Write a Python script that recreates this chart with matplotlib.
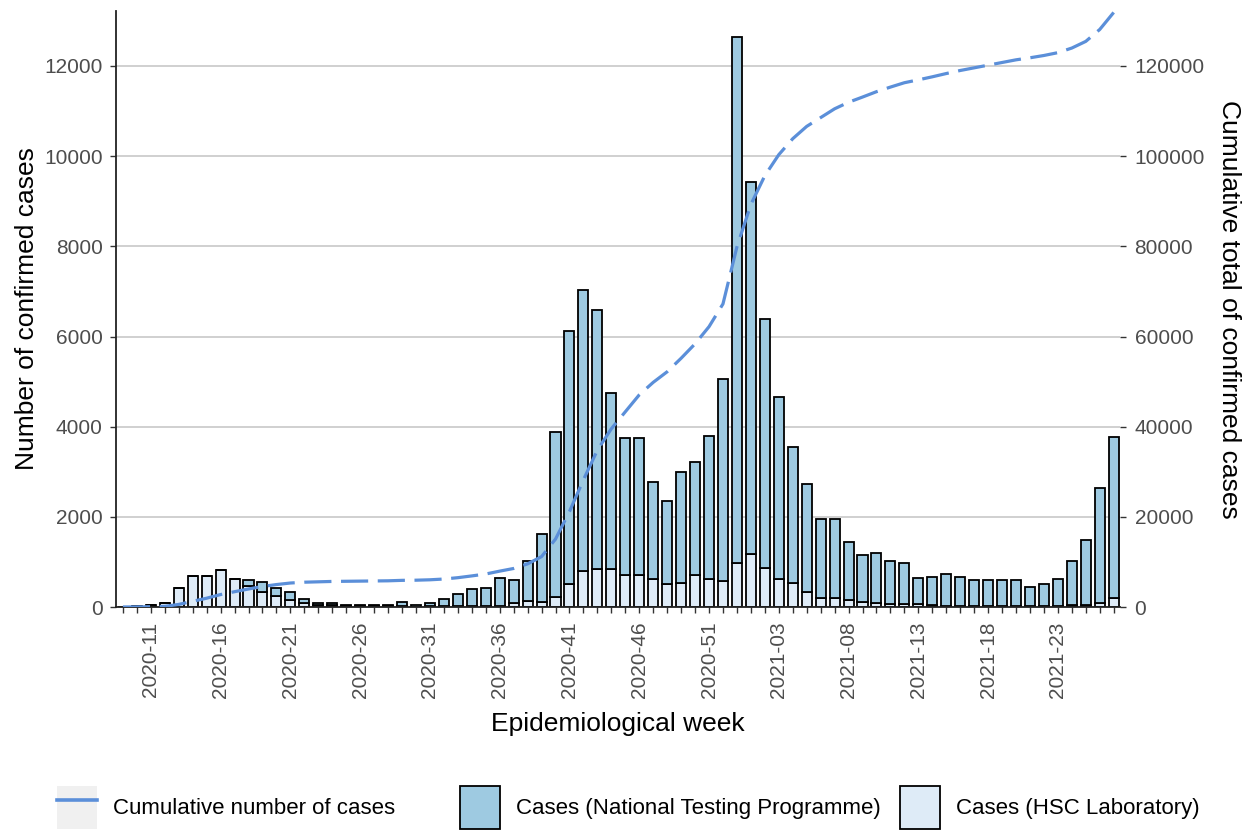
import numpy as np
import matplotlib
matplotlib.use('Agg')
import matplotlib.pyplot as plt
from matplotlib.patches import Patch
from matplotlib.lines import Line2D
from matplotlib.legend_handler import HandlerTuple

plt.rcParams['font.family'] = ['Liberation Sans', 'DejaVu Sans']

weeks = ['2020-%02d' % w for w in range(9, 54)] + ['2021-%02d' % w for w in range(1, 28)]

# total weekly cases (both sources) and the HSC laboratory part
total_cases = [10, 15, 40, 80, 430, 688, 688, 814, 630, 600,
               555, 430, 342, 180, 85, 85, 35, 35, 35, 35,
               100, 35, 90, 170, 297, 393, 421, 637, 592, 1020,
               1611, 3885, 6115, 7023, 6590, 4750, 3757, 3757, 2773, 2350,
               2994, 3206, 3800, 5047, 12646,
               9423, 6378, 4656, 3545, 2731, 1951, 1951, 1450, 1154, 1191,
               1021, 969, 637, 674, 725, 674, 592, 592, 592, 592,
               452, 511, 629, 1021, 1479, 2640, 3775]
hsc_cases = [10, 15, 40, 80, 430, 688, 688, 814, 630, 466,
             333, 244, 155, 80, 40, 40, 15, 15, 15, 15,
             20, 10, 20, 20, 20, 20, 20, 30, 80, 133,
             120, 229, 500, 797, 840, 840, 704, 704, 619, 500,
             534, 704, 619, 577, 975,
             1179, 874, 619, 534, 322, 200, 193, 156, 119, 82,
             75, 75, 75, 37, 30, 30, 25, 25, 25, 25,
             25, 25, 25, 40, 40, 82, 208]

total_cases = np.array(total_cases)
hsc_cases = np.array(hsc_cases)
ntp_cases = total_cases - hsc_cases
cumulative = np.cumsum(total_cases)

x = np.arange(len(weeks))
ntp_col = '#9ecae1'
hsc_col = '#deebf7'
line_col = '#5b8fd9'
tick_col = '#4d4d4d'

fig = plt.figure(figsize=(12.44, 8.33), dpi=100)
ax = fig.add_axes([0.0932, 0.2713, 0.8071, 0.7155])

ax.bar(x, hsc_cases, width=0.72, color=hsc_col, edgecolor='black', linewidth=1.3, zorder=2)
ax.bar(x, ntp_cases, bottom=hsc_cases, width=0.72, color=ntp_col, edgecolor='black',
       linewidth=1.3, zorder=2)

ax.set_xlim(-0.5, 71.45)
ax.set_ylim(0, 13220)
ax.set_yticks(np.arange(0, 12001, 2000))
ax.yaxis.grid(True, color='#c8c8c8', linewidth=1.2, zorder=0)
ax.set_axisbelow(True)

labels = [w if (i - 2) % 5 == 0 else '' for i, w in enumerate(weeks)]
ax.set_xticks(x)
ax.set_xticklabels(labels, rotation=90)
ax.tick_params(axis='both', colors='#333333', labelcolor=tick_col, labelsize=15,
               length=4.5, width=1.0)
ax.tick_params(axis='x', pad=6)
ax.tick_params(axis='y', pad=5)

for s in ['top', 'right']:
    ax.spines[s].set_visible(False)
ax.spines['left'].set_color('#222222')
ax.spines['bottom'].set_color('#222222')
ax.spines['left'].set_linewidth(1.3)
ax.spines['bottom'].set_linewidth(1.3)

ax.set_xlabel('Epidemiological week', fontsize=19, labelpad=10)
ax.set_ylabel('Number of confirmed cases', fontsize=19, labelpad=4)

ax2 = ax.twinx()
ax2.plot(x, cumulative, color=line_col, linewidth=2.3, dashes=(8.5, 3.0), zorder=3)
ax2.set_ylim(0, 132200)
ax2.set_yticks(np.arange(0, 120001, 20000))
for s in ['top', 'right', 'left', 'bottom']:
    ax2.spines[s].set_visible(False)
ax2.tick_params(axis='y', colors='#333333', labelcolor=tick_col, labelsize=15,
                length=4.5, width=1.0, pad=6)
ax2.set_ylabel('Cumulative total of confirmed cases', fontsize=19, rotation=270,
               labelpad=26)

line_key = (Patch(facecolor='#f0f0f0', edgecolor='none'),
            Line2D([], [], color=line_col, linewidth=2.6))
ntp_key = Patch(facecolor=ntp_col, edgecolor='black', linewidth=1.3)
hsc_key = Patch(facecolor=hsc_col, edgecolor='black', linewidth=1.3)

legend_items = [
    (line_key, 'Cumulative number of cases', 0.0458),
    (ntp_key, 'Cases (National Testing Programme)', 0.3698),
    (hsc_key, 'Cases (HSC Laboratory)', 0.7235),
]
for handle, text, xpos in legend_items:
    fig.legend([handle], [text], loc='center left', bbox_to_anchor=(xpos, 0.031),
               frameon=False, fontsize=16, handlelength=1.8, handleheight=2.6,
               handletextpad=0.7, borderpad=0, borderaxespad=0,
               handler_map={tuple: HandlerTuple(ndivide=1, pad=0)})

fig.savefig('out.png', dpi=100)
